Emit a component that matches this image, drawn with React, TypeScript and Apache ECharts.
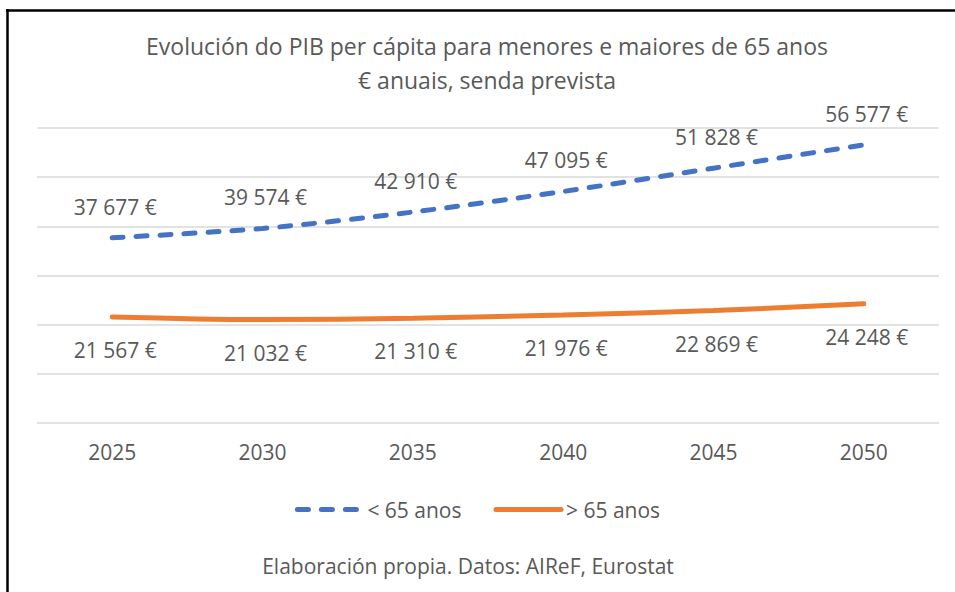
import React, { useEffect, useRef } from "react";
import * as echarts from "echarts";

const years = ["2025", "2030", "2035", "2040", "2045", "2050"];
const under65 = [37677, 39574, 42910, 47095, 51828, 56577];
const over65 = [21567, 21032, 21310, 21976, 22869, 24248];
const seriesNames = ["< 65 anos", "> 65 anos"];
const titleLines = ["Evolución do PIB per cápita para menores e maiores de 65 anos", "€ anuais, senda prevista"];
const footnote = "Elaboración propia. Datos: AIReF, Eurostat";

const FONT = "'Open Sans', 'Noto Sans', sans-serif";
const TEXT = "#595959";

function fmt(v: number): string {
  const th = Math.floor(v / 1000);
  const rest = String(v % 1000).padStart(3, "0");
  return `${th} ${rest} €`;
}

export default function App() {
  const ref = useRef<HTMLDivElement>(null);
  useEffect(() => {
    if (!ref.current) return;
    const chart = echarts.init(ref.current, undefined, { renderer: "svg" });
    chart.setOption({
      animation: false,
      backgroundColor: "#ffffff",
      textStyle: { fontFamily: FONT },
      grid: { left: 37, right: 16, top: 128, bottom: 169 },
      graphic: [
        { type: "line", shape: { x1: 6, y1: 10.5, x2: 955, y2: 10.5 }, style: { stroke: "#000", lineWidth: 2.5 } },
        { type: "line", shape: { x1: 7.5, y1: 9, x2: 7.5, y2: 592 }, style: { stroke: "#000", lineWidth: 2.5 } },
        {
          type: "text",
          style: { text: titleLines[0], x: 487, y: 46, textAlign: "center", textVerticalAlign: "middle", font: `23px ${FONT}`, fill: TEXT },
        },
        {
          type: "text",
          style: { text: titleLines[1], x: 487, y: 80, textAlign: "center", textVerticalAlign: "middle", font: `23px ${FONT}`, fill: TEXT },
        },
        {
          type: "text",
          style: { text: footnote, x: 468, y: 566, textAlign: "center", textVerticalAlign: "middle", font: `21px ${FONT}`, fill: TEXT },
        },
      ],
      legend: {
        top: 494,
        left: "center",
        itemWidth: 65,
        itemHeight: 10,
        itemGap: 32,
        itemStyle: { opacity: 0 },
        lineStyle: { width: 5 },
        textStyle: { color: TEXT, fontSize: 21, fontFamily: FONT },
        data: seriesNames,
      },
      xAxis: {
        type: "category",
        data: years,
        boundaryGap: true,
        axisLine: { show: false },
        axisTick: { show: false },
        axisLabel: { color: TEXT, fontSize: 21, margin: 18, fontFamily: FONT },
      },
      yAxis: {
        type: "value",
        min: 0,
        max: 60000,
        interval: 10000,
        axisLabel: { show: false },
        axisLine: { show: false },
        axisTick: { show: false },
        splitLine: { lineStyle: { color: "#D9D9D9", width: 1.5 } },
      },
      series: [
        {
          name: seriesNames[0],
          type: "line",
          data: under65,
          smooth: 0.3,
          symbol: "circle",
          symbolSize: 1,
          showSymbol: true,
          itemStyle: { color: "rgba(0,0,0,0)", borderWidth: 0 },
          lineStyle: { color: "#4472C4", width: 5, type: [11, 13], cap: "round" },
          label: {
            show: true,
            position: "top",
            distance: 20,
            offset: [3, 0],
            color: TEXT,
            fontSize: 21,
            fontFamily: FONT,
            formatter: (p: any) => fmt(p.value),
          },
        },
        {
          name: seriesNames[1],
          type: "line",
          data: over65,
          smooth: 0.3,
          symbol: "circle",
          symbolSize: 1,
          showSymbol: true,
          itemStyle: { color: "rgba(0,0,0,0)", borderWidth: 0 },
          lineStyle: { color: "#ED7D31", width: 5, cap: "round" },
          label: {
            show: true,
            position: "bottom",
            distance: 22,
            offset: [3, 0],
            color: TEXT,
            fontSize: 21,
            fontFamily: FONT,
            formatter: (p: any) => fmt(p.value),
          },
        },
      ],
    });
    return () => chart.dispose();
  }, []);
  return <div ref={ref} style={{ position: "absolute", left: 0, top: 0, width: 955, height: 592 }} />;
}
